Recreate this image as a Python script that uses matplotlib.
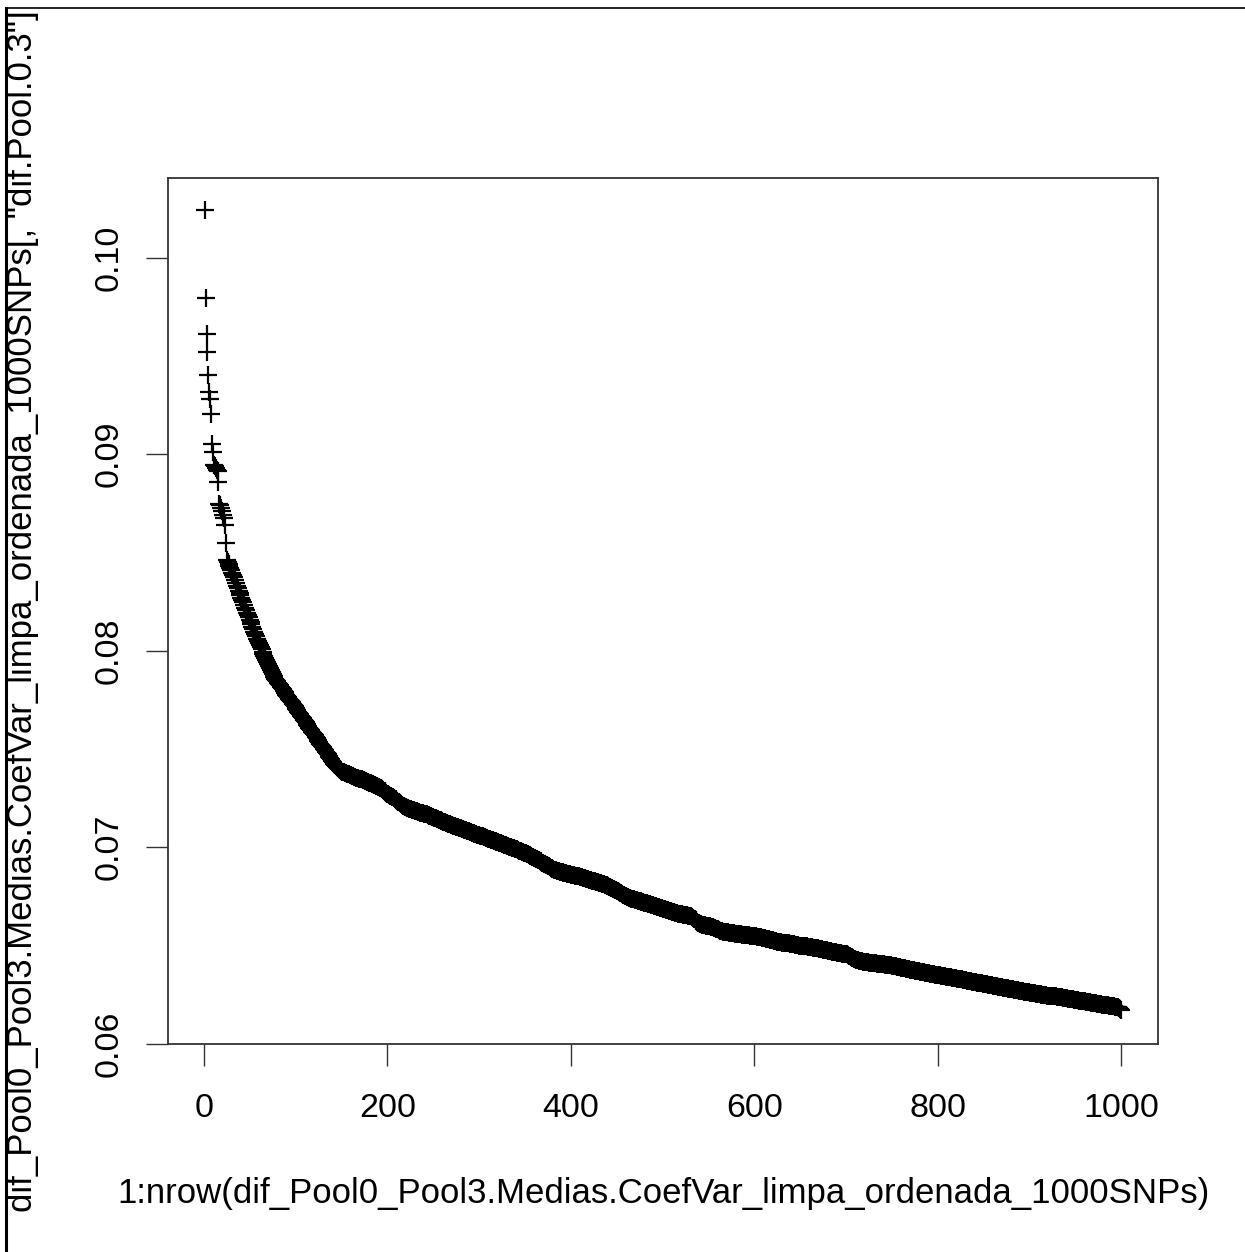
import numpy as np
import matplotlib
matplotlib.use("Agg")
import matplotlib.pyplot as plt
from matplotlib.lines import Line2D

plt.rcParams['font.family'] = ['Liberation Sans', 'DejaVu Sans']

# sorted dif.Pool.0.3 values, in units of 1e-5
head = [
    10244, 9793, 9610, 9521, 9404, 9315, 9281, 9205, 9053, 9011,
    8944, 8938, 8931, 8920, 8912, 8859, 8745, 8741, 8728, 8712,
    8691, 8673, 8641, 8546, 8463, 8452, 8441, 8430, 8418, 8409,
]
steep = [
    8396, 8386, 8372, 8359, 8344, 8331, 8318, 8305, 8293, 8282,
    8270, 8258, 8245, 8231, 8216, 8205, 8193, 8181, 8170, 8158,
    8146, 8134, 8122, 8110, 8097, 8085, 8072, 8060, 8048, 8037,
    8027, 8016, 8006, 7995, 7985, 7974, 7963, 7953, 7942, 7932,
    7921, 7910, 7900, 7889, 7879, 7871, 7864, 7857, 7850, 7843,
    7836, 7829, 7823, 7816, 7810, 7803, 7796, 7790, 7783, 7776,
    7770, 7763, 7756, 7750, 7743, 7736, 7730, 7723, 7716, 7710,
    7703, 7696, 7689, 7682, 7676, 7669, 7662, 7656, 7649, 7642,
    7635, 7628, 7622, 7615, 7608, 7601, 7595, 7588, 7581, 7574,
    7568, 7561, 7554, 7547, 7541, 7534, 7527, 7520, 7513, 7507,
    7500, 7493, 7486, 7480, 7473, 7466, 7459, 7452, 7446, 7439,
    7432, 7425, 7419, 7412, 7406, 7401, 7397, 7393, 7390, 7387,
]
middle = [
    7384, 7382, 7380, 7378, 7376, 7374, 7372, 7370, 7368, 7366,
    7364, 7362, 7360, 7358, 7356, 7354, 7352, 7351, 7349, 7348,
    7347, 7345, 7343, 7341, 7339, 7336, 7334, 7332, 7330, 7328,
    7326, 7324, 7322, 7320, 7318, 7316, 7314, 7312, 7310, 7307,
    7305, 7302, 7299, 7296, 7292, 7288, 7284, 7280, 7276, 7272,
    7268, 7265, 7262, 7259, 7256, 7253, 7250, 7247, 7243, 7239,
    7235, 7231, 7227, 7223, 7219, 7215, 7211, 7208, 7205, 7202,
    7200, 7198, 7197, 7195, 7194, 7192, 7190, 7189, 7187, 7186,
    7184, 7182, 7181, 7179, 7178, 7176, 7174, 7173, 7171, 7170,
    7168, 7167, 7166, 7164, 7162, 7160, 7158, 7156, 7154, 7152,
    7150, 7148, 7146, 7144, 7142, 7140, 7138, 7136, 7134, 7132,
    7130, 7128, 7126, 7124, 7122, 7120, 7118, 7116, 7114, 7112,
    7110, 7108, 7107, 7105, 7103, 7101, 7100, 7098, 7096, 7095,
    7093, 7091, 7090, 7088, 7086, 7085, 7083, 7081, 7080, 7078,
    7076, 7074, 7073, 7071, 7069, 7068, 7066, 7064, 7062, 7061,
    7059, 7057, 7056, 7054, 7052, 7050, 7049, 7047, 7045, 7043,
    7042, 7040, 7038, 7036, 7035, 7033, 7031, 7029, 7028, 7026,
    7024, 7022, 7020, 7019, 7017, 7015, 7013, 7011, 7010, 7008,
    7006, 7004, 7002, 7001, 6999, 6997, 6995, 6993, 6992, 6990,
    6988, 6986, 6984, 6982, 6980, 6978, 6976, 6974, 6972, 6970,
    6968, 6965, 6963, 6960, 6958, 6955, 6953, 6950, 6948, 6945,
    6942, 6940, 6937, 6935, 6932, 6929, 6927, 6924, 6921, 6918,
    6915, 6913, 6910, 6907, 6905, 6902, 6899, 6896, 6893, 6890,
    6888, 6886, 6884, 6882, 6880, 6878, 6877, 6875, 6873, 6872,
    6871, 6870, 6868, 6867, 6866, 6865, 6863, 6862, 6861, 6860,
    6859, 6858, 6857, 6856, 6855, 6854, 6853, 6852, 6851, 6850,
    6848, 6847, 6845, 6844, 6842, 6841, 6839, 6838, 6836, 6835,
    6833, 6832, 6830, 6829, 6827, 6826, 6824, 6823, 6821, 6820,
    6818, 6817, 6815, 6814, 6812, 6811, 6809, 6807, 6805, 6803,
    6801, 6799, 6797, 6794, 6792, 6789, 6787, 6784, 6782, 6779,
    6776, 6773, 6770, 6767, 6764, 6761, 6758, 6755, 6752, 6749,
    6747, 6745, 6743, 6741, 6739, 6737, 6736, 6735, 6734, 6732,
    6731, 6730, 6728, 6727, 6725, 6724, 6722, 6721, 6719, 6718,
    6716, 6715, 6713, 6712, 6710, 6709, 6707, 6706, 6704, 6703,
    6701, 6700, 6698, 6697, 6695, 6693, 6692, 6690, 6689, 6687,
]
tail = [
    6686, 6684, 6683, 6681, 6680, 6678, 6677, 6675, 6674, 6672,
    6671, 6669, 6668, 6666, 6665, 6664, 6662, 6661, 6660, 6659,
    6658, 6657, 6656, 6655, 6654, 6653, 6652, 6651, 6650, 6649,
    6647, 6644, 6640, 6636, 6632, 6628, 6624, 6620, 6616, 6612,
    6609, 6607, 6605, 6604, 6603, 6602, 6601, 6600, 6599, 6598,
    6597, 6596, 6595, 6593, 6591, 6589, 6587, 6585, 6583, 6581,
    6579, 6577, 6575, 6573, 6571, 6570, 6569, 6568, 6567, 6566,
    6566, 6565, 6564, 6564, 6563, 6562, 6562, 6561, 6560, 6560,
    6559, 6558, 6558, 6557, 6556, 6556, 6555, 6554, 6554, 6553,
    6552, 6552, 6551, 6551, 6550, 6550, 6549, 6549, 6548, 6548,
    6547, 6546, 6545, 6544, 6543, 6542, 6540, 6539, 6538, 6537,
    6536, 6535, 6533, 6532, 6531, 6530, 6529, 6527, 6526, 6525,
    6524, 6523, 6522, 6520, 6519, 6518, 6517, 6516, 6515, 6514,
    6513, 6512, 6512, 6511, 6511, 6510, 6510, 6510, 6509, 6508,
    6507, 6506, 6505, 6504, 6503, 6502, 6501, 6500, 6499, 6498,
    6498, 6497, 6497, 6496, 6496, 6495, 6495, 6494, 6494, 6493,
    6492, 6491, 6490, 6489, 6488, 6487, 6486, 6485, 6484, 6483,
    6482, 6481, 6480, 6479, 6478, 6477, 6476, 6475, 6474, 6473,
    6472, 6471, 6470, 6469, 6468, 6467, 6466, 6465, 6464, 6463,
    6462, 6461, 6460, 6459, 6459, 6458, 6458, 6457, 6457, 6456,
    6454, 6451, 6448, 6445, 6442, 6439, 6436, 6434, 6432, 6430,
    6428, 6426, 6424, 6422, 6420, 6419, 6418, 6417, 6416, 6415,
    6414, 6414, 6413, 6413, 6412, 6412, 6411, 6411, 6410, 6410,
    6409, 6409, 6408, 6407, 6407, 6406, 6405, 6405, 6404, 6403,
    6403, 6402, 6402, 6401, 6401, 6400, 6400, 6399, 6398, 6397,
    6396, 6395, 6394, 6393, 6392, 6391, 6390, 6389, 6388, 6387,
    6386, 6385, 6384, 6383, 6382, 6381, 6380, 6379, 6378, 6377,
    6376, 6375, 6374, 6373, 6372, 6371, 6370, 6369, 6368, 6367,
    6366, 6365, 6364, 6363, 6362, 6361, 6360, 6359, 6358, 6357,
    6356, 6355, 6355, 6354, 6353, 6352, 6351, 6350, 6349, 6349,
    6348, 6347, 6346, 6345, 6344, 6344, 6343, 6342, 6341, 6340,
    6339, 6339, 6338, 6337, 6336, 6335, 6334, 6334, 6333, 6332,
    6331, 6330, 6330, 6329, 6328, 6327, 6326, 6325, 6324, 6323,
    6322, 6321, 6320, 6319, 6318, 6317, 6316, 6315, 6314, 6313,
    6312, 6311, 6310, 6309, 6308, 6307, 6307, 6306, 6305, 6305,
    6304, 6303, 6302, 6301, 6300, 6299, 6298, 6297, 6296, 6295,
    6294, 6293, 6292, 6291, 6291, 6290, 6289, 6288, 6287, 6286,
    6285, 6284, 6283, 6283, 6282, 6281, 6280, 6279, 6278, 6277,
    6276, 6276, 6275, 6274, 6273, 6272, 6271, 6270, 6270, 6269,
    6268, 6267, 6266, 6265, 6264, 6264, 6263, 6262, 6261, 6260,
    6259, 6258, 6257, 6257, 6256, 6255, 6254, 6253, 6252, 6251,
    6250, 6250, 6249, 6248, 6247, 6246, 6245, 6245, 6244, 6243,
    6242, 6242, 6241, 6241, 6240, 6240, 6240, 6240, 6240, 6239,
    6238, 6237, 6236, 6235, 6235, 6234, 6233, 6232, 6231, 6231,
    6230, 6229, 6228, 6227, 6227, 6226, 6225, 6224, 6223, 6223,
    6222, 6221, 6220, 6219, 6219, 6218, 6217, 6216, 6215, 6215,
    6214, 6213, 6212, 6211, 6211, 6210, 6209, 6208, 6207, 6207,
    6206, 6205, 6204, 6203, 6203, 6202, 6201, 6200, 6199, 6199,
    6198, 6197, 6196, 6195, 6195, 6194, 6193, 6192, 6191, 6190,
    6190, 6189, 6188, 6187, 6186, 6185, 6182, 6179, 6175, 6170,
]

x_ticks = [0, 200, 400, 600, 800, 1000]
y_ticks = [0.06, 0.07, 0.08, 0.09, 0.10]
y_tick_labels = ["0.06", "0.07", "0.08", "0.09", "0.10"]
x_label = "1:nrow(dif_Pool0_Pool3.Medias.CoefVar_limpa_ordenada_1000SNPs)"
y_label = 'dif_Pool0_Pool3.Medias.CoefVar_limpa_ordenada_1000SNPs[, "dif.Pool.0.3"]'

vals = np.array(head + steep + middle + tail) / 1e5
idx = np.arange(1, len(vals) + 1)

W, H = 1245, 1252
fig = plt.figure(figsize=(W / 100, H / 100), dpi=100)
ax = fig.add_axes([168 / W, 1 - 1044 / H, (1158 - 168) / W, (1044 - 178) / H])

ax.plot(idx, vals, linestyle='none', marker='+', markersize=12.5,
        markeredgewidth=1.6, color='black')

ax.set_xlim(-39, 1040)
ax.set_ylim(0.05998, 0.10405)
ax.set_xticks(x_ticks)
ax.set_yticks(y_ticks)
ax.set_yticklabels(y_tick_labels)

for s in ax.spines.values():
    s.set_color('#333333')
    s.set_linewidth(1.3)

ax.tick_params(axis='both', length=15.5, width=1.0, color='#333333',
               labelsize=24.5, direction='out')
ax.tick_params(axis='x', pad=20)
ax.tick_params(axis='y', pad=16, labelrotation=90)
for t in ax.get_yticklabels():
    t.set_va('center')

ax.set_xlabel(x_label, fontsize=25, va='center')
ax.xaxis.set_label_coords(0.5, (1044 - 1194) / 866)
ax.set_ylabel(y_label, fontsize=25, va='center')
ax.yaxis.set_label_coords((23 - 168) / 990, 0.5)

# frame lines of the original screenshot
fig.add_artist(Line2D([6 / W, 6 / W], [0, 1 - 8 / H], color='black', lw=2.2))
fig.add_artist(Line2D([6 / W, 1], [1 - 8 / H, 1 - 8 / H], color='black', lw=1.2))

fig.savefig('out.png', dpi=100)
